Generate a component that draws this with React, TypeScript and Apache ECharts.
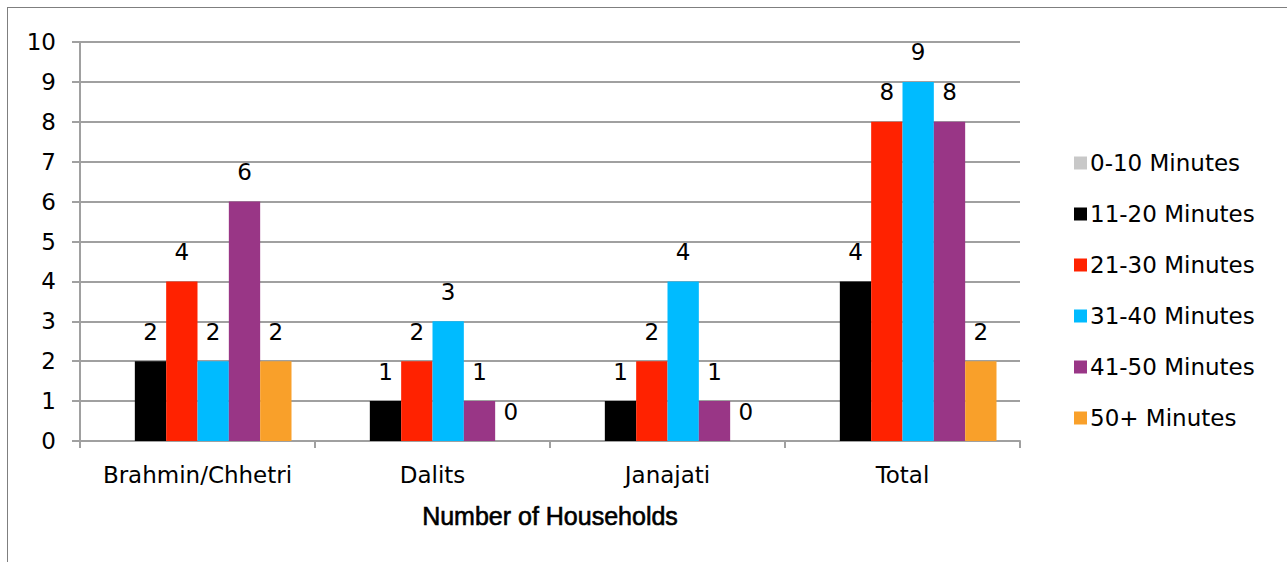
import React, { useEffect, useRef } from "react";
import * as echarts from "echarts";

const categories = ["Brahmin/Chhetri", "Dalits", "Janajati", "Total"];
const seriesNames = ["0-10 Minutes", "11-20 Minutes", "21-30 Minutes", "31-40 Minutes", "41-50 Minutes", "50+ Minutes"];
const v0_10: (number | null)[] = [null, null, null, null];
const v11_20 = [2, 1, 1, 4];
const v21_30 = [4, 2, 2, 8];
const v31_40 = [2, 3, 4, 9];
const v41_50 = [6, 1, 1, 8];
const v50plus = [2, 0, 0, 2];
const colors = ["#C8C8C8", "#000000", "#FF2200", "#00BBFF", "#993686", "#F9A02A"];
const yTicks = [0, 1, 2, 3, 4, 5, 6, 7, 8, 9, 10];

const FONT = "DejaVu Sans";
const FS = 23;

export default function App() {
  const ref = useRef<HTMLDivElement>(null);
  useEffect(() => {
    if (!ref.current) return;
    const chart = echarts.init(ref.current, null, { renderer: "svg" });
    const allData = [v0_10, v11_20, v21_30, v31_40, v41_50, v50plus];
    chart.setOption({
      animation: false,
      grid: { left: 72, top: 34, width: 940, height: 399, containLabel: false },
      legend: {
        orient: "vertical",
        left: 1061,
        top: 137,
        itemWidth: 13,
        itemHeight: 13,
        itemGap: 25,
        icon: "rect",
        textStyle: { fontFamily: FONT, fontSize: FS, color: "#000", lineHeight: 26, padding: [0, 0, 0, -2] },
        data: seriesNames,
      },
      xAxis: {
        type: "category",
        data: categories,
        name: "Number of Households",
        nameLocation: "middle",
        nameGap: 62,
        nameTextStyle: {
          fontFamily: "Liberation Sans",
          fontSize: 25,
          color: "#000",
          textBorderColor: "#000",
          textBorderWidth: 0.6,
        },
        axisLine: { lineStyle: { color: "#A0A0A0", width: 2 } },
        axisTick: { show: true, length: 7, lineStyle: { color: "#A0A0A0", width: 2 } },
        axisLabel: { fontFamily: FONT, fontSize: FS, color: "#000", margin: 22, interval: 0 },
      },
      yAxis: {
        type: "value",
        min: yTicks[0],
        max: yTicks[yTicks.length - 1],
        interval: 1,
        axisLine: { show: true, lineStyle: { color: "#A0A0A0", width: 2 } },
        axisTick: { show: true, length: 8, lineStyle: { color: "#A0A0A0", width: 2 } },
        axisLabel: { fontFamily: FONT, fontSize: FS, color: "#000", margin: 24 },
        splitLine: { lineStyle: { color: "#A0A0A0", width: 2 } },
      },
      series: seriesNames.map((name, i) => ({
        name,
        type: "bar",
        data: allData[i],
        barGap: "0%",
        barCategoryGap: "20%",
        itemStyle: { color: colors[i] },
        label: {
          show: true,
          position: "top",
          distance: 18,
          fontFamily: FONT,
          fontSize: FS,
          color: "#000",
        },
      })),
    });
    return () => chart.dispose();
  }, []);
  return (
    <div
      style={{
        position: "absolute",
        left: 7,
        top: 7,
        width: 1290,
        height: 560,
        border: "1px solid #7F7F7F",
        boxSizing: "border-box",
        background: "#fff",
      }}
    >
      <div ref={ref} style={{ width: 1288, height: 558 }} />
    </div>
  );
}
